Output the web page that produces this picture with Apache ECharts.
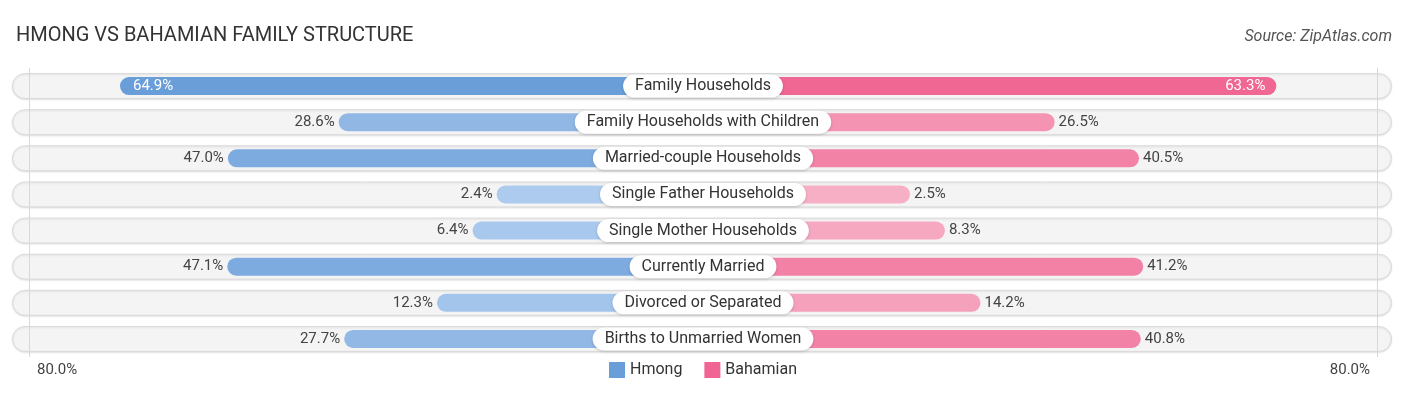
<!DOCTYPE html>
<html><head><meta charset="utf-8">
<script src="https://cdn.jsdelivr.net/npm/echarts@6/dist/echarts.min.js"></script>
<style>html,body{margin:0;padding:0;background:#fff}#c{width:1406px;height:395px}</style>
</head><body><div id="c"></div>
<script>
const categories = ["Family Households","Family Households with Children","Married-couple Households","Single Father Households","Single Mother Households","Currently Married","Divorced or Separated","Births to Unmarried Women"];
const hmong = [64.9,28.6,47.0,2.4,6.4,47.1,12.3,27.7];
const bahamian = [63.3,26.5,40.5,2.5,8.3,41.2,14.2,40.8];
const seriesNames = ["Hmong","Bahamian"];
const tickLabels = ["80.0%","80.0%"];
const axisMaxPct = 80;

const OFF = 31.85; // offset for label area, in % units
const AX = axisMaxPct + OFF;
function mix(a,b,t){
  const pa=[1,3,5].map(i=>parseInt(a.substr(i,2),16)), pb=[1,3,5].map(i=>parseInt(b.substr(i,2),16));
  return 'rgb('+pa.map((v,i)=>Math.round(v+(pb[i]-v)*t)).join(',')+')';
}
const maxV = Math.max(...hmong,...bahamian);
function col(light,dark,v){return mix(light,dark,Math.min(1,v/maxV));}
const topIdx = 0;
const FONT = 'Roboto';

const hData = hmong.map((v,i)=>({
  value:-(v+OFF),
  itemStyle:{color:col('#b0cdef','#6a9ed9',v)},
  label:i===topIdx?{position:'insideLeft',color:'#fff',distance:13}:{position:'left',color:'#444',distance:4}
}));
const bData = bahamian.map((v,i)=>({
  value:(v+OFF),
  itemStyle:{color:col('#f7b2c8','#f06593',v)},
  label:i===topIdx?{position:'insideRight',color:'#fff',distance:11}:{position:'right',color:'#444',distance:4}
}));

const chart = echarts.init(document.getElementById('c'),null,{renderer:'canvas'});
chart.setOption({
  animation:false,
  title:[
    {text:'HMONG VS BAHAMIAN FAMILY STRUCTURE',left:11,top:21,textStyle:{fontFamily:FONT,fontSize:20,fontWeight:'normal',color:'#333'}},
    {text:'Source: ZipAtlas.com',right:9,top:24,textStyle:{fontFamily:FONT,fontSize:16,fontWeight:'normal',fontStyle:'italic',color:'#555'}}
  ],
  legend:{data:seriesNames,bottom:12,left:'center',itemWidth:16,itemHeight:16,itemGap:22,icon:'rect',
    textStyle:{fontFamily:FONT,fontSize:16,color:'#333'}},
  grid:[
    {left:29,right:29,top:68,bottom:38},
    {left:12,right:14,top:68,bottom:38}
  ],
  xAxis:[
    {type:'value',gridIndex:0,min:-AX,max:AX,show:false},
    {type:'value',gridIndex:1,min:0,max:1,show:false}
  ],
  yAxis:[
    {type:'category',gridIndex:0,data:categories,inverse:true,show:false},
    {type:'category',gridIndex:1,data:categories,inverse:true,show:false}
  ],
  series:[
    {type:'bar',name:'track',xAxisIndex:1,yAxisIndex:1,data:categories.map(()=>1),barWidth:26,silent:true,
      itemStyle:{color:'#f4f4f4',borderRadius:13,borderColor:'#dadada',borderWidth:1,shadowColor:'rgba(0,0,0,0.10)',shadowBlur:2,shadowOffsetY:1},z:1},
    {type:'bar',name:seriesNames[0],data:hData,barWidth:18,barGap:'-100%',z:3,
      itemStyle:{borderRadius:9,color:'#6a9ed9'},
      label:{show:true,fontFamily:FONT,fontSize:15,formatter:p=>hmong[p.dataIndex].toFixed(1)+'%'},
      markLine:{silent:true,symbol:'none',label:{show:false},lineStyle:{color:'#d8d8d8',width:1,type:'solid'},
        data:[{xAxis:-AX},{xAxis:AX}]}},
    {type:'bar',name:seriesNames[1],data:bData,barWidth:18,barGap:'-100%',z:3,
      itemStyle:{borderRadius:9,color:'#f06593'},
      label:{show:true,fontFamily:FONT,fontSize:15,formatter:p=>bahamian[p.dataIndex].toFixed(1)+'%'}},
    {type:'scatter',name:'cat',data:categories.map((c,i)=>[0,i]),symbolSize:0,z:5,silent:true,
      itemStyle:{opacity:1},
      label:{show:true,position:'inside',formatter:p=>categories[p.dataIndex],fontFamily:FONT,fontSize:16,color:'#333',
        backgroundColor:'#fff',borderRadius:12,padding:[4,12,3,12],shadowColor:'rgba(0,0,0,0.18)',shadowBlur:3,shadowOffsetY:1}}
  ],
  graphic:[
    {type:'text',left:37,top:363,style:{text:tickLabels[0],font:'15px '+FONT,fill:'#444'}},
    {type:'text',right:36,top:363,style:{text:tickLabels[1],font:'15px '+FONT,fill:'#444'}}
  ]
});
</script></body></html>
